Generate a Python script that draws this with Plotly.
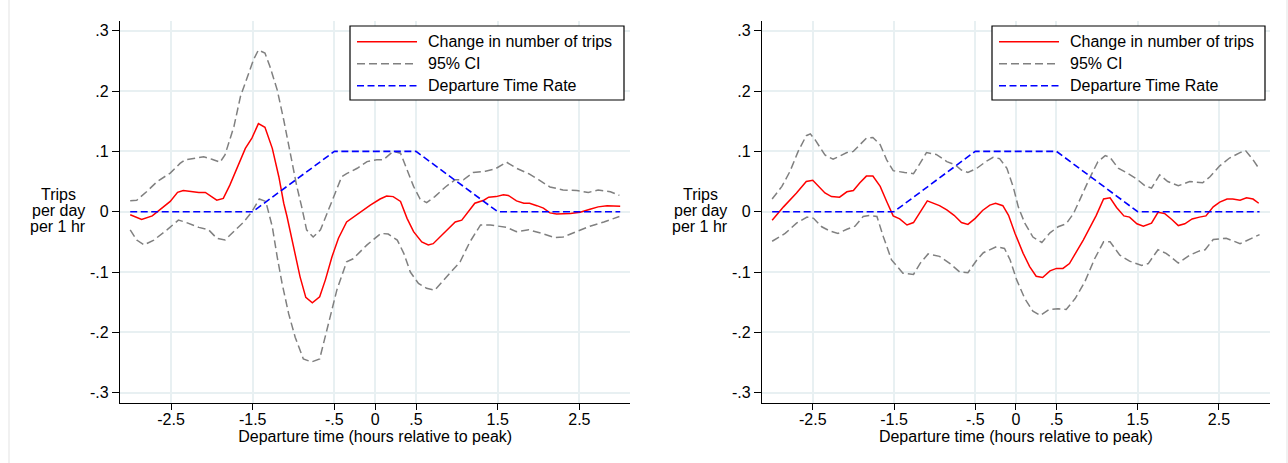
import plotly.graph_objects as go

W, H = 1288, 463

# ---------------- data ----------------
dtr_x = [-3.0, -1.5, -0.5, 0.5, 1.5, 3.0]
dtr_y = [0.0, 0.0, 0.1, 0.1, 0.0, 0.0]

left_est_x = [-3.0, -2.86, -2.73, -2.59, -2.51, -2.42, -2.35, -2.16, -2.08, -1.94, -1.86, -1.78, -1.67, -1.59, -1.51,
              -1.43, -1.35, -1.26, -1.18, -1.12, -1.08, -1.0, -0.92, -0.85, -0.77, -0.68, -0.61, -0.53, -0.45, -0.35,
              -0.29, -0.18, -0.06, 0.06, 0.14, 0.22, 0.31, 0.39, 0.47, 0.57, 0.65, 0.71, 0.82, 0.98, 1.06, 1.14, 1.22,
              1.33, 1.39, 1.48, 1.57, 1.63, 1.73, 1.82, 1.89, 1.98, 2.06, 2.14, 2.22, 2.39, 2.51, 2.63, 2.73, 2.84,
              2.96, 3.0]
left_est_y = [-0.005, -0.013, -0.007, 0.008, 0.017, 0.032, 0.035, 0.032, 0.032, 0.019, 0.022, 0.044, 0.080, 0.105,
              0.122, 0.146, 0.140, 0.105, 0.058, 0.014, -0.008, -0.058, -0.108, -0.142, -0.151, -0.141, -0.113, -0.075,
              -0.044, -0.017, -0.011, 0.0, 0.011, 0.021, 0.026, 0.025, 0.017, -0.011, -0.033, -0.050, -0.055, -0.053,
              -0.039, -0.017, -0.014, 0.0, 0.014, 0.019, 0.024, 0.025, 0.028, 0.027, 0.018, 0.014, 0.014, 0.010,
              0.006, -0.002, -0.004, -0.003, -0.001, 0.004, 0.008, 0.010, 0.010, 0.009]

left_hi_x = [-3.0, -2.92, -2.8, -2.67, -2.51, -2.39, -2.33, -2.1, -2.0, -1.9, -1.84, -1.73, -1.65, -1.55, -1.49, -1.43,
             -1.35, -1.29, -1.2, -1.12, -1.04, -0.96, -0.9, -0.84, -0.76, -0.67, -0.59, -0.47, -0.41, -0.35, -0.22,
             -0.1, 0.02, 0.1, 0.22, 0.31, 0.39, 0.47, 0.55, 0.63, 0.73, 0.86, 0.98, 1.08, 1.2, 1.35, 1.47, 1.61, 1.73,
             1.88, 2.0, 2.14, 2.3, 2.47, 2.61, 2.73, 2.88, 2.99]
left_hi_y = [0.018, 0.019, 0.033, 0.050, 0.064, 0.080, 0.086, 0.091, 0.087, 0.082, 0.094, 0.141, 0.191, 0.230, 0.252,
             0.268, 0.263, 0.241, 0.202, 0.152, 0.097, 0.042, 0.008, -0.030, -0.042, -0.030, -0.003, 0.036, 0.058,
             0.063, 0.072, 0.083, 0.086, 0.086, 0.100, 0.097, 0.069, 0.042, 0.021, 0.015, 0.025, 0.041, 0.053, 0.053,
             0.065, 0.067, 0.071, 0.082, 0.072, 0.063, 0.053, 0.041, 0.036, 0.035, 0.032, 0.036, 0.033, 0.027]

left_lo_x = [-3.0, -2.92, -2.83, -2.71, -2.55, -2.41, -2.33, -2.16, -2.04, -1.94, -1.84, -1.73, -1.61, -1.51, -1.42,
             -1.34, -1.26, -1.2, -1.14, -1.06, -0.98, -0.88, -0.78, -0.68, -0.59, -0.47, -0.35, -0.27, -0.1, 0.07,
             0.16, 0.27, 0.35, 0.43, 0.53, 0.63, 0.73, 0.86, 1.04, 1.16, 1.29, 1.41, 1.61, 1.73, 1.88, 2.04, 2.2, 2.3,
             2.47, 2.63, 2.8, 2.99]
left_lo_y = [-0.030, -0.047, -0.055, -0.047, -0.030, -0.014, -0.017, -0.026, -0.030, -0.044, -0.047, -0.033, -0.017,
             0.0, 0.021, 0.017, -0.025, -0.075, -0.119, -0.169, -0.208, -0.244, -0.249, -0.244, -0.197, -0.130, -0.083,
             -0.078, -0.055, -0.036, -0.037, -0.047, -0.069, -0.100, -0.119, -0.127, -0.130, -0.111, -0.083, -0.050,
             -0.022, -0.022, -0.026, -0.033, -0.030, -0.036, -0.043, -0.042, -0.033, -0.024, -0.017, -0.008]

right_est_x = [-3.0, -2.86, -2.70, -2.58, -2.5, -2.35, -2.27, -2.17, -2.08, -2.0, -1.92, -1.84, -1.76, -1.67, -1.59,
               -1.51, -1.43, -1.34, -1.26, -1.18, -1.09, -0.94, -0.85, -0.76, -0.67, -0.59, -0.5, -0.41, -0.32, -0.25,
               -0.16, -0.09, -0.01, 0.09, 0.17, 0.25, 0.33, 0.42, 0.5, 0.58, 0.66, 0.83, 0.99, 1.08, 1.16, 1.24, 1.33,
               1.40, 1.49, 1.57, 1.67, 1.75, 1.83, 1.92, 2.0, 2.08, 2.17, 2.26, 2.34, 2.43, 2.51, 2.6, 2.67, 2.76, 2.84,
               2.92, 2.99]
right_est_y = [-0.014, 0.008, 0.031, 0.050, 0.052, 0.031, 0.025, 0.024, 0.033, 0.035, 0.048, 0.059, 0.059, 0.042,
               0.017, -0.007, -0.012, -0.022, -0.018, 0.0, 0.018, 0.010, 0.003, -0.006, -0.018, -0.021, -0.011, 0.002,
               0.011, 0.014, 0.010, -0.006, -0.036, -0.069, -0.091, -0.107, -0.109, -0.098, -0.094, -0.094, -0.086,
               -0.047, -0.006, 0.021, 0.023, 0.007, -0.007, -0.009, -0.020, -0.024, -0.019, -0.001, -0.003, -0.013,
               -0.023, -0.020, -0.012, -0.009, -0.007, 0.008, 0.016, 0.021, 0.021, 0.019, 0.023, 0.021, 0.014]

right_hi_x = [-3.0, -2.88, -2.78, -2.68, -2.58, -2.53, -2.47, -2.35, -2.25, -2.08, -2.0, -1.84, -1.76, -1.67, -1.59,
              -1.51, -1.37, -1.26, -1.18, -1.10, -0.98, -0.85, -0.75, -0.67, -0.59, -0.48, -0.36, -0.28, -0.2, -0.11,
              -0.03, 0.03, 0.11, 0.21, 0.32, 0.42, 0.52, 0.62, 0.71, 0.81, 0.91, 1.01, 1.10, 1.16, 1.26, 1.36, 1.49,
              1.59, 1.67, 1.77, 1.87, 2.0, 2.14, 2.3, 2.39, 2.51, 2.63, 2.76, 2.83, 2.92, 3.0]
right_hi_y = [0.021, 0.042, 0.067, 0.100, 0.126, 0.129, 0.119, 0.094, 0.087, 0.098, 0.100, 0.122, 0.123, 0.111, 0.086,
              0.068, 0.065, 0.063, 0.080, 0.098, 0.095, 0.083, 0.078, 0.069, 0.065, 0.072, 0.084, 0.090, 0.088, 0.072,
              0.040, 0.008, -0.019, -0.042, -0.051, -0.035, -0.025, -0.020, -0.003, 0.028, 0.056, 0.083, 0.093, 0.090,
              0.072, 0.065, 0.054, 0.043, 0.039, 0.061, 0.050, 0.043, 0.050, 0.048, 0.058, 0.076, 0.089, 0.098, 0.101,
              0.086, 0.070]

right_lo_x = [-3.0, -2.84, -2.7, -2.57, -2.49, -2.39, -2.29, -2.19, -2.08, -1.98, -1.88, -1.8, -1.71, -1.63, -1.53,
              -1.39, -1.26, -1.18, -1.08, -0.94, -0.81, -0.69, -0.59, -0.48, -0.4, -0.24, -0.14, -0.07, 0.01, 0.11,
              0.21, 0.3, 0.41, 0.52, 0.62, 0.73, 0.85, 0.97, 1.08, 1.16, 1.28, 1.4, 1.55, 1.63, 1.75, 1.85, 2.0, 2.14,
              2.26, 2.33, 2.43, 2.59, 2.76, 2.88, 3.0]
right_lo_y = [-0.049, -0.036, -0.019, -0.009, -0.011, -0.025, -0.032, -0.036, -0.029, -0.024, -0.008, -0.006, -0.008,
              -0.042, -0.080, -0.102, -0.104, -0.086, -0.070, -0.074, -0.086, -0.100, -0.101, -0.080, -0.068, -0.058,
              -0.061, -0.080, -0.113, -0.144, -0.165, -0.172, -0.162, -0.161, -0.162, -0.144, -0.116, -0.078, -0.050,
              -0.050, -0.072, -0.082, -0.089, -0.086, -0.063, -0.069, -0.085, -0.072, -0.065, -0.063, -0.046, -0.044,
              -0.053, -0.046, -0.038]

x_tickvals = [-2.5, -1.5, -0.5, 0, 0.5, 1.5, 2.5]
x_ticktext = ["-2.5", "-1.5", "-.5", "0", ".5", "1.5", "2.5"]
y_tickvals = [-0.3, -0.2, -0.1, 0, 0.1, 0.2, 0.3]
y_ticktext = ["-.3", "-.2", "-.1", "0", ".1", ".2", ".3"]

legend_labels = ["Change in number of trips", "95% CI", "Departure Time Rate"]
x_title = "Departure time (hours relative to peak)"
y_title_lines = ["Trips", "per day", "per 1 hr"]

# ---------------- styles ----------------
FONT = "Liberation Sans, Arial, sans-serif"
RED = "#ff0000"
GRAY = "#808080"
BLUE = "#0000ff"
GRID = "#E8F0F2"
RED_LINE = dict(color=RED, width=1.5)
GRAY_LINE = dict(color=GRAY, width=1.5, dash="8px,4px")
BLUE_LINE = dict(color=BLUE, width=1.6, dash="7px,3.5px")

fig = go.Figure()

panels = [
    ("x", "y", left_est_x, left_est_y, left_hi_x, left_hi_y, left_lo_x, left_lo_y),
    ("x2", "y2", right_est_x, right_est_y, right_hi_x, right_hi_y, right_lo_x, right_lo_y),
]
for xa, ya, ex, ey, hx, hy, lx, ly in panels:
    fig.add_trace(go.Scatter(x=hx, y=hy, mode="lines", line=GRAY_LINE, name=legend_labels[1],
                             xaxis=xa, yaxis=ya, showlegend=False))
    fig.add_trace(go.Scatter(x=lx, y=ly, mode="lines", line=GRAY_LINE, name=legend_labels[1],
                             xaxis=xa, yaxis=ya, showlegend=False))
    fig.add_trace(go.Scatter(x=ex, y=ey, mode="lines", line=RED_LINE, name=legend_labels[0],
                             xaxis=xa, yaxis=ya, showlegend=False))
    fig.add_trace(go.Scatter(x=dtr_x, y=dtr_y, mode="lines", line=BLUE_LINE, name=legend_labels[2],
                             xaxis=xa, yaxis=ya, showlegend=False))

# pixel layout helpers
def px(xp):
    return xp / W

def py(yp):
    return 1 - yp / H

plot_top, plot_bot = 20.7, 402.7
left_dom = [px(120), px(630.4)]
right_dom = [px(762), px(1269.7)]
ydom = [py(plot_bot), py(plot_top)]

def xaxis(domain, anchor):
    return dict(domain=domain, anchor=anchor, range=[-3.125, 3.125], tickmode="array",
                tickvals=x_tickvals, ticktext=x_ticktext, showgrid=True, gridcolor=GRID, gridwidth=1.5,
                zeroline=False, showline=True, linecolor="black", linewidth=1.2, ticks="outside",
                ticklen=6, tickwidth=1.2, tickcolor="black", tickfont=dict(family=FONT, size=16, color="black"),
                ticklabelstandoff=-4,
                title=dict(text=x_title, font=dict(family=FONT, size=16, color="black"), standoff=2),
                fixedrange=True)

def yaxis(anchor):
    return dict(domain=ydom, anchor=anchor, range=[-0.3166, 0.3166], tickmode="array",
                tickvals=y_tickvals, ticktext=y_ticktext, showgrid=True, gridcolor=GRID, gridwidth=1.5,
                zeroline=False, showline=True, linecolor="black", linewidth=1.2, ticks="outside",
                ticklen=7, tickwidth=1.2, tickcolor="black", tickfont=dict(family=FONT, size=16, color="black"),
                fixedrange=True)

shapes = []
annotations = []

# faint outer borders of the two exported graphs
for xb in (9, 1287):
    shapes.append(dict(type="line", xref="paper", yref="paper", x0=px(xb), x1=px(xb), y0=0, y1=1,
                       line=dict(color="#E3E3E3", width=1)))

# y titles (three stacked lines) per panel
for cx in (58, 700):
    for i, t in enumerate(y_title_lines):
        annotations.append(dict(text=t, xref="paper", yref="paper", x=px(cx), y=py(194 + 16 * i),
                                xanchor="center", yanchor="middle", showarrow=False,
                                font=dict(family=FONT, size=16, color="black")))

# legends (drawn as box + samples + labels)
legend_styles = [RED_LINE, GRAY_LINE, BLUE_LINE]
for bx0, bx1 in ((350, 624), (992, 1265)):
    shapes.append(dict(type="rect", xref="paper", yref="paper", x0=px(bx0), x1=px(bx1), y0=py(100), y1=py(26),
                       line=dict(color="black", width=1.2), fillcolor="white", layer="above"))
    for i, (lab, st) in enumerate(zip(legend_labels, legend_styles)):
        yy = 41.7 + 22 * i
        shapes.append(dict(type="line", xref="paper", yref="paper", x0=px(bx0 + 7), x1=px(bx0 + 67),
                           y0=py(yy), y1=py(yy), line=st, layer="above"))
        annotations.append(dict(text=lab, xref="paper", yref="paper", x=px(bx0 + 76), y=py(yy),
                                xanchor="left", yanchor="middle", showarrow=False,
                                font=dict(family=FONT, size=16, color="black")))

fig.update_layout(
    width=W, height=H,
    margin=dict(l=0, r=0, t=0, b=0, autoexpand=False),
    paper_bgcolor="white", plot_bgcolor="white",
    font=dict(family=FONT, size=16, color="black"),
    showlegend=False,
    xaxis=xaxis(left_dom, "y"),
    yaxis=yaxis("x"),
    xaxis2=xaxis(right_dom, "y2"),
    yaxis2=yaxis("x2"),
    shapes=shapes,
    annotations=annotations,
)

fig.write_html("out.html")
